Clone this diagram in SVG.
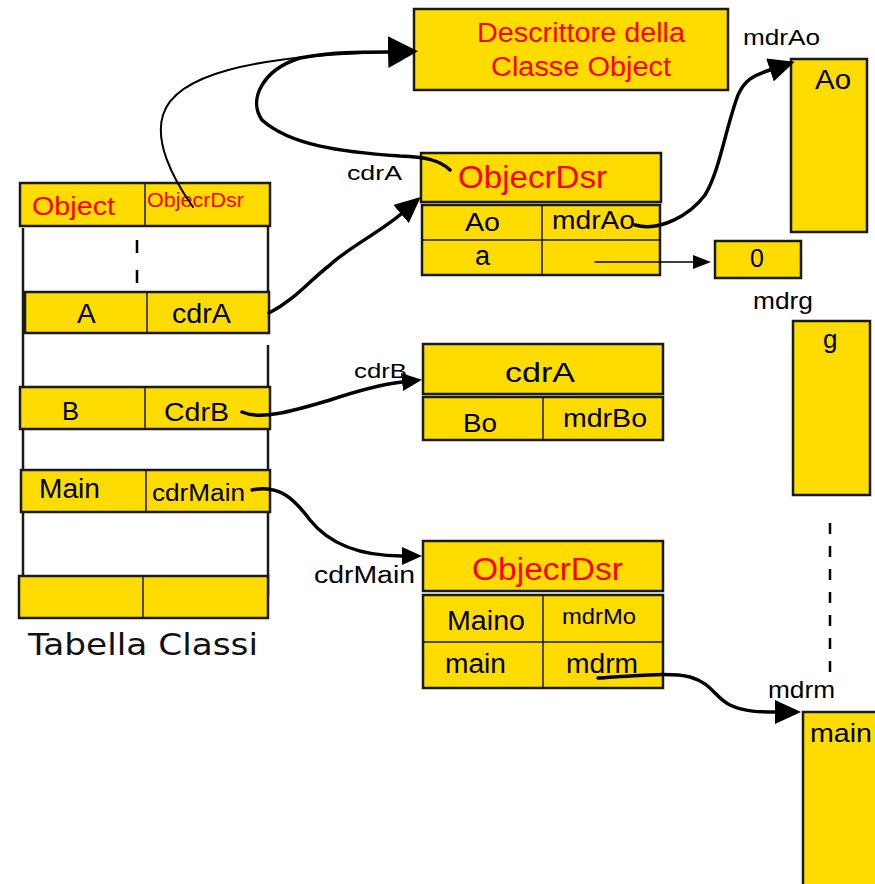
<svg xmlns="http://www.w3.org/2000/svg" width="875" height="884" viewBox="0 0 875 884">
<style>
.box{fill:#FFDC00;stroke:#1a1a1a;stroke-width:2.5}
.div{stroke:#1a1a1a;stroke-width:1.5;fill:none}
.vl{stroke:#1a1a1a;stroke-width:2.5;fill:none}
.t{font-family:"Liberation Sans",Arial,sans-serif;fill:#000}
.r{fill:#FF0000}
.c{fill:none;stroke:#000;stroke-width:3.5;stroke-linecap:round;stroke-linejoin:round}
.ct{fill:none;stroke:#000;stroke-width:2;stroke-linecap:round}
.dash{stroke:#000;stroke-width:2.5;stroke-dasharray:11 12;fill:none}
</style>
<defs>
<marker id="big" viewBox="0 -16 30 32" refX="0" refY="0" markerWidth="30" markerHeight="32" markerUnits="userSpaceOnUse" orient="auto"><path d="M0,-16 L30,0 L0,16z" fill="#000"/></marker>
<marker id="med" viewBox="0 -12 26 24" refX="0" refY="0" markerWidth="26" markerHeight="24" markerUnits="userSpaceOnUse" orient="auto"><path d="M0,-12 L26,0 L0,12z" fill="#000"/></marker>
<marker id="sm" viewBox="0 -9 20 18" refX="0" refY="0" markerWidth="20" markerHeight="18" markerUnits="userSpaceOnUse" orient="auto"><path d="M0,-9 L20,0 L0,9z" fill="#000"/></marker>
<marker id="tiny" viewBox="0 -7 18 14" refX="0" refY="0" markerWidth="18" markerHeight="14" markerUnits="userSpaceOnUse" orient="auto"><path d="M0,-7 L18,0 L0,7z" fill="#000"/></marker>
</defs>

<g id="tabella-classi">
  <line class="vl" x1="23" y1="228" x2="23" y2="577"/>
  <line class="vl" x1="268" y1="226" x2="268" y2="292"/>
  <line class="vl" x1="268" y1="345" x2="268" y2="596"/>
  <line class="dash" x1="137" y1="240" x2="137" y2="288" style="stroke-dasharray:13 17"/>
  <g id="row-object">
    <rect class="box" x="20" y="183" width="250" height="43"/>
    <line class="div" x1="145" y1="183" x2="145" y2="226"/>
    <text class="t r" x="32" y="215" font-size="26" textLength="83" lengthAdjust="spacingAndGlyphs">Object</text>
    <text class="t r" x="147" y="207" font-size="20" textLength="97" lengthAdjust="spacingAndGlyphs">ObjecrDsr</text>
  </g>
  <g id="row-a">
    <rect class="box" x="25" y="292" width="244" height="41"/>
    <line class="div" x1="147" y1="292" x2="147" y2="333"/>
    <text class="t" x="77" y="323" font-size="28">A</text>
    <text class="t" x="172" y="323" font-size="28" textLength="59" lengthAdjust="spacingAndGlyphs">cdrA</text>
  </g>
  <g id="row-b">
    <rect class="box" x="20" y="387" width="250" height="42"/>
    <line class="div" x1="145" y1="387" x2="145" y2="429"/>
    <text class="t" x="62" y="420" font-size="25" textLength="17" lengthAdjust="spacingAndGlyphs">B</text>
    <text class="t" x="164" y="421" font-size="25" textLength="65" lengthAdjust="spacingAndGlyphs">CdrB</text>
  </g>
  <g id="row-main">
    <rect class="box" x="21" y="470" width="249" height="42"/>
    <line class="div" x1="146" y1="470" x2="146" y2="512"/>
    <text class="t" x="39" y="498" font-size="27" textLength="61" lengthAdjust="spacingAndGlyphs">Main</text>
    <text class="t" x="152" y="501" font-size="23" textLength="93" lengthAdjust="spacingAndGlyphs">cdrMain</text>
  </g>
  <g id="row-empty">
    <rect class="box" x="19" y="576" width="249" height="42"/>
    <line class="div" x1="143" y1="576" x2="143" y2="618"/>
  </g>
  <text x="28" y="655" font-family="'DejaVu Sans',Verdana,sans-serif" font-size="31" fill="#111" textLength="230" lengthAdjust="spacingAndGlyphs">Tabella Classi</text>
</g>

<g id="descrittore-object">
  <rect class="box" x="414" y="9" width="314" height="81"/>
  <text class="t r" x="477" y="42" font-size="27" textLength="208" lengthAdjust="spacingAndGlyphs">Descrittore della</text>
  <text class="t r" x="491" y="76" font-size="27" textLength="180" lengthAdjust="spacingAndGlyphs">Classe Object</text>
</g>

<g id="descrittore-a">
  <text class="t" x="347" y="180" font-size="21" textLength="55" lengthAdjust="spacingAndGlyphs">cdrA</text>
  <rect class="box" x="421" y="153" width="240" height="49"/>
  <text class="t r" x="458" y="188" font-size="31" textLength="149" lengthAdjust="spacingAndGlyphs">ObjecrDsr</text>
  <rect class="box" x="422" y="205" width="238" height="70"/>
  <line class="div" x1="422" y1="240" x2="660" y2="240"/>
  <line class="div" x1="542" y1="205" x2="542" y2="275"/>
  <text class="t" x="465" y="231" font-size="26" textLength="35" lengthAdjust="spacingAndGlyphs">Ao</text>
  <text class="t" x="552" y="229" font-size="25" textLength="83" lengthAdjust="spacingAndGlyphs">mdrAo</text>
  <text class="t" x="475" y="265" font-size="27">a</text>
</g>

<g id="descrittore-b">
  <text class="t" x="354" y="378" font-size="21" textLength="53" lengthAdjust="spacingAndGlyphs">cdrB</text>
  <rect class="box" x="423" y="344" width="240" height="50"/>
  <text class="t" x="505" y="382" font-size="28" textLength="70" lengthAdjust="spacingAndGlyphs">cdrA</text>
  <rect class="box" x="423" y="397" width="240" height="43"/>
  <line class="div" x1="543" y1="397" x2="543" y2="440"/>
  <text class="t" x="463" y="432" font-size="25" textLength="34" lengthAdjust="spacingAndGlyphs">Bo</text>
  <text class="t" x="563" y="427" font-size="25" textLength="84" lengthAdjust="spacingAndGlyphs">mdrBo</text>
</g>

<g id="descrittore-main">
  <text class="t" x="314" y="583" font-size="23" textLength="101" lengthAdjust="spacingAndGlyphs">cdrMain</text>
  <rect class="box" x="423" y="541" width="240" height="50"/>
  <text class="t r" x="472" y="580" font-size="31" textLength="151" lengthAdjust="spacingAndGlyphs">ObjecrDsr</text>
  <rect class="box" x="423" y="595" width="240" height="93"/>
  <line class="div" x1="423" y1="642" x2="663" y2="642"/>
  <line class="div" x1="543" y1="595" x2="543" y2="688"/>
  <text class="t" x="447" y="630" font-size="27" textLength="78" lengthAdjust="spacingAndGlyphs">Maino</text>
  <text class="t" x="562" y="624" font-size="22" textLength="74" lengthAdjust="spacingAndGlyphs">mdrMo</text>
  <text class="t" x="445" y="673" font-size="27" textLength="61" lengthAdjust="spacingAndGlyphs">main</text>
  <text class="t" x="566" y="673" font-size="27" textLength="72" lengthAdjust="spacingAndGlyphs">mdrm</text>
</g>

<g id="metodo-ao">
  <text class="t" x="743" y="45" font-size="22" textLength="77" lengthAdjust="spacingAndGlyphs">mdrAo</text>
  <rect class="box" x="791" y="59" width="76" height="173"/>
  <text class="t" x="815" y="89" font-size="27" textLength="36" lengthAdjust="spacingAndGlyphs">Ao</text>
</g>

<g id="valore-a">
  <rect class="box" x="715" y="241" width="86" height="37"/>
  <text class="t" x="750" y="267" font-size="25">0</text>
</g>

<g id="metodo-g">
  <text class="t" x="753" y="309" font-size="24" textLength="60" lengthAdjust="spacingAndGlyphs">mdrg</text>
  <rect class="box" x="793" y="321" width="77" height="174"/>
  <text class="t" x="823" y="348" font-size="26">g</text>
</g>

<line id="continua" class="dash" x1="830" y1="523" x2="830" y2="675"/>

<g id="metodo-main">
  <text class="t" x="768" y="698" font-size="24" textLength="67" lengthAdjust="spacingAndGlyphs">mdrm</text>
  <rect class="box" x="803" y="712" width="80" height="180"/>
  <text class="t" x="810" y="742" font-size="26" textLength="62" lengthAdjust="spacingAndGlyphs">main</text>
</g>

<g id="connectors">
  <path class="ct" d="M193,207 C170,175 155,140 163,115 C175,75 250,56 388,52" marker-end="url(#big)"/>
  <path class="c" d="M450,170 C440,160 425,157 400,156 C340,152 290,145 262,120 C248,100 262,70 300,58 C330,52 360,52 388,52"/>
  <path class="c" d="M269,313 C295,300 310,280 330,265 C345,250 380,232 401,214" marker-end="url(#med)"/>
  <path class="c" d="M635,225 C660,232 690,215 705,195 C720,170 725,130 738,95 C745,80 752,76 770,70" marker-end="url(#med)"/>
  <line class="ct" style="stroke-width:1.5" x1="595" y1="262" x2="693" y2="262" marker-end="url(#tiny)"/>
  <path class="c" d="M242,412 C260,420 290,412 330,400 C360,390 385,384 402,382" marker-end="url(#sm)"/>
  <path class="c" d="M252,490 C280,484 295,500 310,520 C330,545 360,556 402,556" marker-end="url(#sm)"/>
  <path class="c" d="M598,678 C630,676 670,672 690,677 C712,683 715,698 730,705 C745,712 760,712 775,712" marker-end="url(#med)"/>
</g>
</svg>
